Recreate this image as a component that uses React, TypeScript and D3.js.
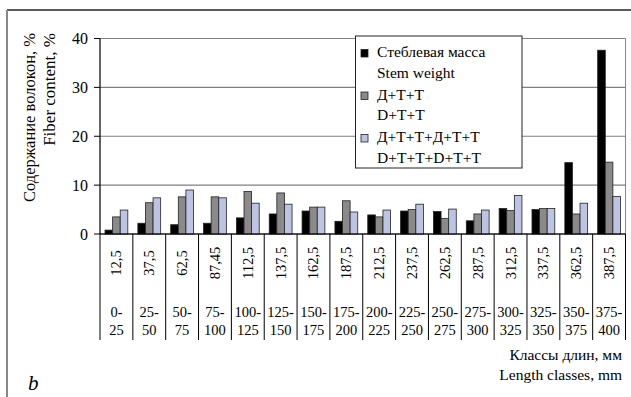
import React from "react";
import * as d3 from "d3";

const midLabels = ["12,5","37,5","62,5","87,45","112,5","137,5","162,5","187,5","212,5","237,5","262,5","287,5","312,5","337,5","362,5","387,5"];
const rangeTop = ["0-","25-","50-","75-","100-","125-","150-","175-","200-","225-","250-","275-","300-","325-","350-","375-"];
const rangeBottom = ["25","50","75","100","125","150","175","200","225","250","275","300","325","350","375","400"];
const stemWeight = [0.8,2.2,1.9,2.2,3.3,4.1,4.7,2.6,3.9,4.7,4.6,2.7,5.2,5.0,14.6,37.6];
const dtt = [3.5,6.4,7.6,7.6,8.7,8.4,5.5,6.8,3.5,5.0,3.2,4.1,4.8,5.2,4.1,14.7];
const dttdtt = [4.9,7.4,9.0,7.4,6.3,6.1,5.5,4.5,4.9,6.1,5.1,4.9,7.9,5.2,6.3,7.7];
const yTicks = [0,10,20,30,40];
const seriesKeys = ["stem","dtt","dttdtt"];
const seriesColors = ["#000000","#8a8a8a","#bcc3e3"];
const legendLines = [["Стеблевая масса","Stem weight"],["Д+Т+Т","D+T+T"],["Д+Т+Т+Д+Т+Т","D+T+T+D+T+T"]];

export default function App() {
  const W = 631, H = 397;
  const left = 100, right = 625.5, top = 38.5, bottom = 234;
  const font = "'Times New Roman', Times, 'Liberation Serif', Tinos, 'Nimbus Roman', FreeSerif, 'DejaVu Serif', 'Noto Serif', serif";
  const x = d3.scaleBand<string>().domain(midLabels).range([left, right]).padding(0);
  const x1 = d3.scaleBand<string>().domain(seriesKeys).range([0, x.bandwidth()]).paddingInner(0).paddingOuter(0.66);
  const y = d3.scaleLinear().domain([0, 40]).range([bottom, top]);
  const data = [stemWeight, dtt, dttdtt];
  const tickBottom = 340;

  return (
    <svg width={W} height={H} style={{ position: "absolute", left: 0, top: 0, fontFamily: font }}>
      <rect x={0} y={0} width={W} height={H} fill="#fff" />
      <line x1={7} y1={10} x2={W} y2={10} stroke="#222" strokeWidth={1.3} />
      <line x1={7} y1={10} x2={7} y2={H} stroke="#888" strokeWidth={2} />
      <rect x={left} y={top} width={right - left} height={bottom - top} fill="none" stroke="#8a8a8a" strokeWidth={1} />
      {yTicks.map((t) => (
        <g key={t}>
          <line x1={left} x2={right} y1={y(t)} y2={y(t)} stroke="#808080" strokeWidth={1.2} />
          <line x1={left - 6} x2={left} y1={y(t)} y2={y(t)} stroke="#000" strokeWidth={1} />
          <text x={88} y={y(t)} dy="0.35em" textAnchor="end" fontSize={16} style={{ fontFamily: font }}>{t}</text>
        </g>
      ))}
      {midLabels.map((c, i) => (
        <g key={c}>
          {data.map((s, k) => (
            <rect key={k} x={(x(c) as number) + (x1(seriesKeys[k]) as number)} y={y(s[i])}
              width={x1.bandwidth()} height={y(0) - y(s[i])}
              fill={seriesColors[k]} stroke="#222" strokeWidth={0.8} />
          ))}
        </g>
      ))}
      <line x1={left} x2={left} y1={top} y2={tickBottom} stroke="#000" strokeWidth={1} />
      <line x1={left} x2={right} y1={bottom} y2={bottom} stroke="#000" strokeWidth={1} />
      {midLabels.map((c, i) => (
        <line key={"t" + i} x1={(x(c) as number) + x.bandwidth()} x2={(x(c) as number) + x.bandwidth()}
          y1={bottom} y2={tickBottom} stroke="#000" strokeWidth={1} />
      ))}
      {midLabels.map((c, i) => {
        const cx = (x(c) as number) + x.bandwidth() / 2;
        return (
          <g key={"l" + i} style={{ fontFamily: font }}>
            <text transform={`translate(${cx + 5},263) rotate(-90)`} textAnchor="middle" fontSize={14.5}>{c}</text>
            <text x={cx} y={317} textAnchor="middle" fontSize={14.5}>{rangeTop[i]}</text>
            <text x={cx} y={335} textAnchor="middle" fontSize={14.5}>{rangeBottom[i]}</text>
          </g>
        );
      })}
      <g style={{ fontFamily: font }}>
        <text transform="translate(35,33) rotate(-90)" textAnchor="end" fontSize={16.5}>Содержание волокон, %</text>
        <text transform="translate(55,33) rotate(-90)" textAnchor="end" fontSize={17}>Fiber content, %</text>
        <text x={622} y={360} textAnchor="end" fontSize={15.5}>Классы длин, мм</text>
        <text x={622} y={380} textAnchor="end" fontSize={15.5}>Length classes, mm</text>
        <text x={28} y={390} fontSize={21} fontStyle="italic">b</text>
      </g>
      <rect x={355.5} y={36} width={166.5} height={132} fill="#fff" stroke="#222" strokeWidth={1} />
      {legendLines.map((ls, k) => {
        const base = 57 + k * 42.5;
        return (
          <g key={"lg" + k} style={{ fontFamily: font }}>
            <rect x={361} y={base - 7.5} width={7} height={7.5} fill={seriesColors[k]} stroke="#222" strokeWidth={0.8} />
            <text x={377} y={base} fontSize={15.5}>{ls[0]}</text>
            <text x={377} y={base + 20.5} fontSize={15.5}>{ls[1]}</text>
          </g>
        );
      })}
    </svg>
  );
}
